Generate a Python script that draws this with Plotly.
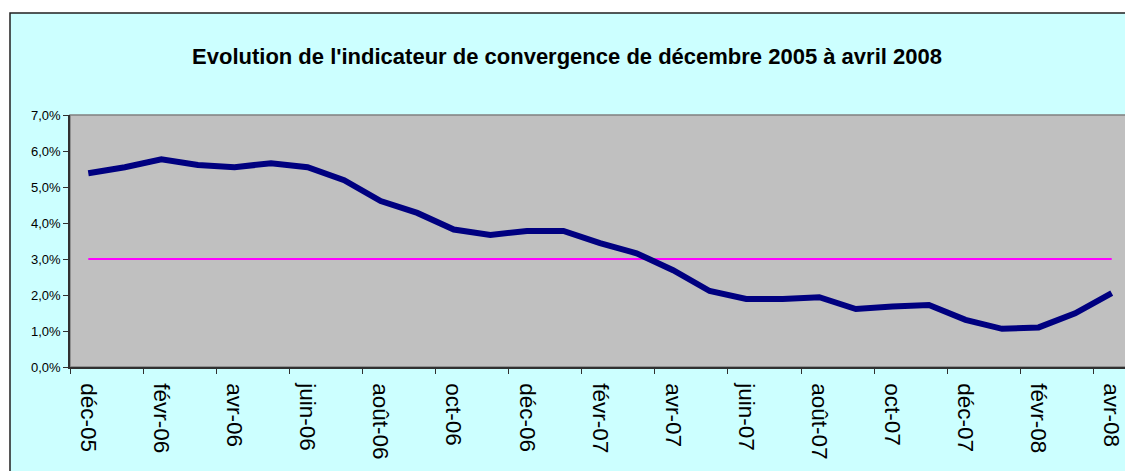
import plotly.graph_objects as go

# ── Colours (Excel 2003 style) ──────────────────────────
CYAN = "#CCFFFF"
PLOT_GRAY = "#C0C0C0"
NAVY = "#000080"
MAGENTA = "#FF00FF"
FONT = "Arial, Liberation Sans, sans-serif"

mois = [
    "déc-05", "janv-06", "févr-06", "mars-06", "avr-06", "mai-06", "juin-06",
    "juil-06", "août-06", "sept-06", "oct-06", "nov-06", "déc-06", "janv-07",
    "févr-07", "mars-07", "avr-07", "mai-07", "juin-07", "juil-07", "août-07",
    "sept-07", "oct-07", "nov-07", "déc-07", "janv-08", "févr-08", "mars-08",
    "avr-08",
]
indicateur = [
    0.0538, 0.0555, 0.0577, 0.0561, 0.0555, 0.0566, 0.0555, 0.0519, 0.0461,
    0.0428, 0.0382, 0.0367, 0.0378, 0.0378, 0.0344, 0.0316, 0.0269, 0.0211,
    0.0189, 0.0189, 0.0194, 0.0161, 0.0168, 0.0172, 0.0131, 0.0106, 0.0110,
    0.0149, 0.0205,
]
seuil = [0.03] * len(mois)

x = list(range(len(mois)))

fig = go.Figure()
fig.add_trace(go.Scatter(x=x, y=seuil, mode="lines", line=dict(color=MAGENTA, width=2), hoverinfo="skip"))
fig.add_trace(go.Scatter(x=x, y=indicateur, mode="lines", line=dict(color=NAVY, width=6)))

# the page body has an 8px margin, so the figure is drawn 8px smaller
OFF = 8
FW, FH = 1133 - OFF, 471 - OFF
# plot area in window pixels: 70..1130 wide, 115..367 high
L, R, T, B = 70 - OFF, 3, 115 - OFF, 471 - 367
W, H = FW - L - R, FH - T - B

def px_x(p):
    return (p - OFF - L) / W

def px_y(p):
    return (FH - B - (p - OFF)) / H

fig.update_layout(
    width=FW, height=FH,
    margin=dict(l=L, r=R, t=T, b=B),
    paper_bgcolor="white",
    plot_bgcolor="rgba(0,0,0,0)",
    showlegend=False,
    font=dict(family=FONT, color="black"),
    separators=",.",
    title=dict(
        text="<b>Evolution de l'indicateur de convergence de décembre 2005 à avril 2008</b>",
        x=(567 - OFF) / FW, xanchor="center", xref="container",
        y=1 - (56 - OFF) / FH, yanchor="middle", yref="container",
        font=dict(size=22, family=FONT, color="black"),
    ),
    shapes=[
        # chart area
        dict(type="rect", xref="paper", yref="paper", layer="below",
             x0=px_x(10), x1=px_x(1145), y0=px_y(485), y1=px_y(13),
             fillcolor=CYAN, line=dict(color="#202020", width=1.5)),
        # plot area
        dict(type="rect", xref="paper", yref="paper", layer="below",
             x0=0, x1=1, y0=0, y1=1,
             fillcolor=PLOT_GRAY, line=dict(color="#808080", width=1.5)),
    ],
)

fig.update_xaxes(
    range=[-0.5, len(mois) - 0.5],
    tickmode="array", tickvals=x[::2], ticktext=mois[::2],
    tickangle=90, tickfont=dict(size=22.5),
    ticklabelstandoff=10,
    ticks="", showgrid=False, zeroline=False,
    showline=True, linecolor="#303030", linewidth=1.5,
    minor=dict(tick0=-0.5, dtick=2, ticks="outside", ticklen=5, tickcolor="#303030", showgrid=False),
)
fig.update_yaxes(
    range=[0, 0.07], dtick=0.01, tickformat=".1%",
    tickfont=dict(size=13),
    ticks="outside", ticklen=5, tickcolor="#303030",
    showgrid=False, zeroline=False,
    showline=True, linecolor="#303030", linewidth=1.5,
)

fig.write_html("out.html")
